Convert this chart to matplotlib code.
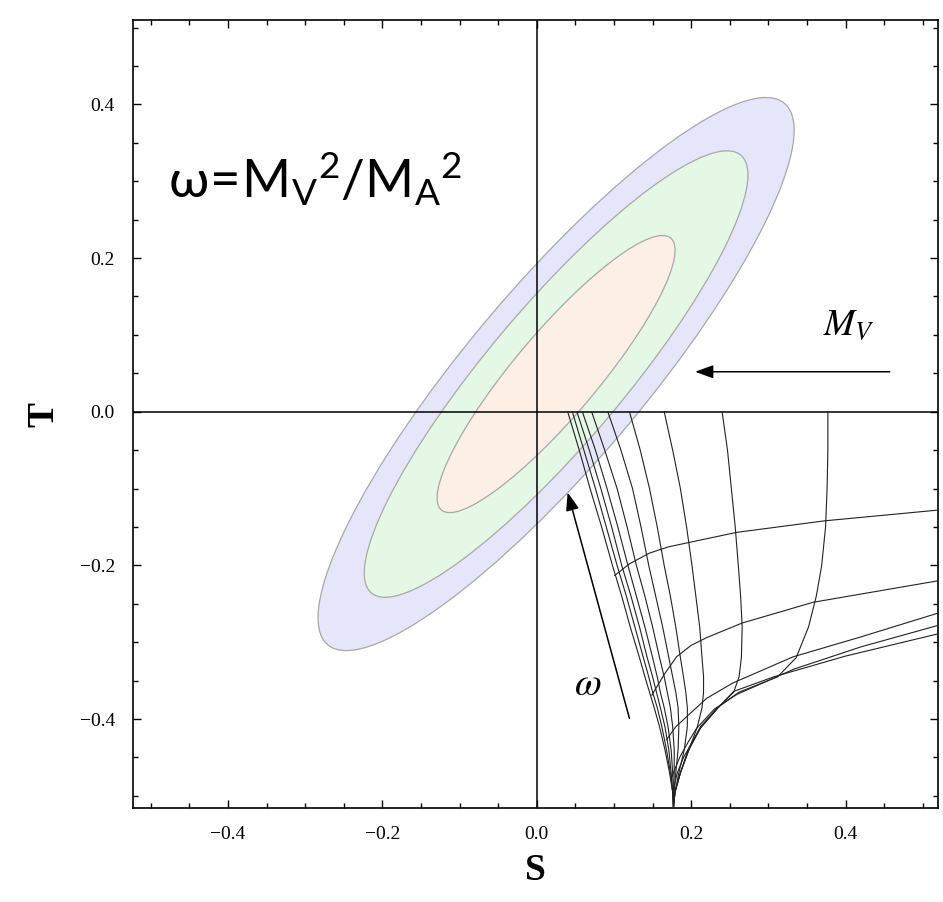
import matplotlib
matplotlib.use("Agg")
import matplotlib.pyplot as plt
from matplotlib.patches import Ellipse
from matplotlib.ticker import MultipleLocator

# --- confidence ellipses (68/95/99 %) ---
ELL_CENTER = (0.025, 0.049)
ELL_ANGLE = 50.0
ELL_SEMI_MAJOR = [0.460, 0.372, 0.231]
ELL_SEMI_MINOR = [0.114, 0.088, 0.054]
ELL_COLORS = ["#e6e6fa", "#e5f7e5", "#fcefe6"]

# --- constant-omega curves, S sampled on a shared T grid ---
OMEGA_T = [0.0, -0.05, -0.10, -0.15, -0.20, -0.24, -0.28, -0.32, -0.345, -0.365,
           -0.385, -0.41, -0.44, -0.47, -0.495, -0.515]
OMEGA_S = [
    [0.040, 0.055, 0.069, 0.084, 0.098, 0.110, 0.121, 0.133, 0.140, 0.146, 0.152, 0.159, 0.166, 0.172, 0.176, 0.177],
    [0.046, 0.061, 0.076, 0.090, 0.104, 0.116, 0.127, 0.138, 0.145, 0.150, 0.156, 0.162, 0.168, 0.173, 0.176, 0.177],
    [0.052, 0.068, 0.083, 0.097, 0.110, 0.122, 0.133, 0.143, 0.150, 0.155, 0.160, 0.166, 0.171, 0.174, 0.176, 0.177],
    [0.059, 0.076, 0.091, 0.105, 0.118, 0.129, 0.140, 0.150, 0.156, 0.160, 0.165, 0.170, 0.174, 0.176, 0.177, 0.177],
    [0.071, 0.088, 0.104, 0.117, 0.129, 0.140, 0.150, 0.159, 0.165, 0.169, 0.173, 0.176, 0.178, 0.178, 0.177, 0.177],
    [0.092, 0.109, 0.124, 0.135, 0.145, 0.154, 0.163, 0.171, 0.176, 0.180, 0.183, 0.184, 0.183, 0.180, 0.178, 0.177],
    [0.120, 0.134, 0.146, 0.156, 0.165, 0.173, 0.180, 0.186, 0.190, 0.193, 0.195, 0.195, 0.191, 0.184, 0.179, 0.177],
    [0.165, 0.176, 0.186, 0.194, 0.201, 0.206, 0.211, 0.214, 0.216, 0.216, 0.214, 0.208, 0.197, 0.186, 0.179, 0.177],
    [0.240, 0.247, 0.252, 0.257, 0.261, 0.264, 0.266, 0.265, 0.262, 0.255, 0.235, 0.213, 0.197, 0.186, 0.179, 0.177],
    [0.377, 0.377, 0.376, 0.374, 0.369, 0.362, 0.352, 0.336, 0.312, 0.262, 0.234, 0.212, 0.196, 0.186, 0.179, 0.177],
]

# --- constant-M_V curves ---
MV_S = [
    [0.101, 0.120, 0.146, 0.170, 0.198, 0.259, 0.373, 0.520],
    [0.149, 0.165, 0.181, 0.200, 0.220, 0.266, 0.358, 0.520],
    [0.168, 0.180, 0.194, 0.220, 0.254, 0.332, 0.420, 0.520],
    [0.175, 0.185, 0.196, 0.207, 0.230, 0.259, 0.333, 0.420, 0.520],
    [0.176, 0.182, 0.190, 0.211, 0.235, 0.255, 0.307, 0.400, 0.520],
]
MV_T = [
    [-0.213, -0.198, -0.184, -0.176, -0.170, -0.157, -0.142, -0.128],
    [-0.369, -0.342, -0.319, -0.304, -0.294, -0.275, -0.248, -0.220],
    [-0.427, -0.410, -0.397, -0.373, -0.353, -0.319, -0.293, -0.262],
    [-0.475, -0.450, -0.430, -0.412, -0.387, -0.368, -0.335, -0.306, -0.278],
    [-0.495, -0.470, -0.450, -0.413, -0.385, -0.364, -0.345, -0.318, -0.289],
]

MV_ARROW = ((0.457, 0.052), (0.205, 0.052))
OMEGA_ARROW = ((0.120, -0.399), (0.040, -0.105))

fig = plt.figure(figsize=(9.43, 9.02), dpi=100)
ax = fig.add_axes([0.141, 0.104, 0.854, 0.874])

for a, b, c in zip(ELL_SEMI_MAJOR, ELL_SEMI_MINOR, ELL_COLORS):
    ax.add_patch(Ellipse(ELL_CENTER, 2 * a, 2 * b, angle=ELL_ANGLE,
                         facecolor=c, edgecolor="#a8a8a8", lw=0.9, zorder=1))

ax.axhline(0, color="black", lw=1.1, zorder=3)
ax.axvline(0, color="black", lw=1.1, zorder=3)

for s in OMEGA_S:
    ax.plot(s, OMEGA_T, color="#222222", lw=0.8, zorder=4)
for s, t in zip(MV_S, MV_T):
    ax.plot(s, t, color="#222222", lw=0.8, zorder=4)

arrow_kw = dict(arrowstyle="-|>,head_length=1.1,head_width=0.4", color="black", lw=1.1,
                shrinkA=0, shrinkB=0)
ax.annotate("", xy=MV_ARROW[1], xytext=MV_ARROW[0], arrowprops=arrow_kw, zorder=5)
ax.annotate("", xy=OMEGA_ARROW[1], xytext=OMEGA_ARROW[0], arrowprops=arrow_kw, zorder=5)

ax.text(0.404, 0.113, r"$M_V$", fontsize=27, ha="center", va="center",
        math_fontfamily="stix")
ax.text(0.066, -0.355, r"$\omega$", fontsize=28, ha="center", va="center",
        math_fontfamily="stix")

plt.rcParams["mathtext.fontset"] = "custom"
plt.rcParams["mathtext.rm"] = "Lato"
plt.rcParams["mathtext.it"] = "Lato"
ax.text(-0.478, 0.302, r"$\mathrm{ω\!=\!M_V{}^2/M_A{}^2}$", fontsize=38,
        ha="left", va="center")

ax.set_xlim(-0.523, 0.52)
ax.set_ylim(-0.516, 0.51)
ax.xaxis.set_major_locator(MultipleLocator(0.2))
ax.xaxis.set_minor_locator(MultipleLocator(0.05))
ax.yaxis.set_major_locator(MultipleLocator(0.2))
ax.yaxis.set_minor_locator(MultipleLocator(0.05))
ax.tick_params(which="both", direction="in", top=True, right=True, width=1.0,
               labelsize=14, labelfontfamily="Liberation Serif")
ax.tick_params(which="major", length=6)
ax.tick_params(which="minor", length=3.5)
ax.tick_params(axis="x", pad=13)
ax.tick_params(axis="y", pad=13)
for sp in ax.spines.values():
    sp.set_linewidth(1.2)

ax.set_xlabel("S", fontsize=27, fontweight="bold", fontfamily="Liberation Serif", labelpad=7)
ax.set_ylabel("T", fontsize=27, fontweight="bold", fontfamily="Liberation Serif", labelpad=13)

fig.savefig("out.png", dpi=100)
